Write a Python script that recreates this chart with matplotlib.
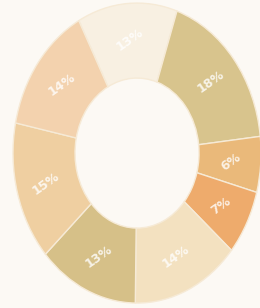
import matplotlib
matplotlib.use("Agg")
import matplotlib.pyplot as plt

# Donut segments, clockwise from the top
shares = [13, 18, 6, 7, 14, 13, 15, 14]
labels = ["13%", "18%", "6%", "7%", "14%", "13%", "15%", "14%"]
colors = ["#f8f0e2", "#d8c48d", "#eab97a", "#eeab6c",
          "#f3e1c0", "#d6c088", "#efcfa1", "#f3d2ae"]

fig = plt.figure(figsize=(2.6, 3.08), dpi=100, facecolor="#fcf9f4")
ax = fig.add_axes([0.05, 0.016, 0.954, 0.974])
ax.set_facecolor("#fcf9f4")

wedges, texts = ax.pie(
    shares, labels=labels, colors=colors, startangle=118,
    counterclock=False, labeldistance=0.76,
    wedgeprops=dict(width=0.5, edgecolor="#f6ead6", linewidth=1.0),
    textprops=dict(color="white", fontsize=9, fontweight="bold",
                   alpha=0.8, rotation=35, ha="center", va="center"),
)
ax.set_aspect("auto")
ax.set_xlim(-1.0, 1.0)
ax.set_ylim(-1.0, 1.0)

fig.savefig("out.png", dpi=100, facecolor=fig.get_facecolor())
